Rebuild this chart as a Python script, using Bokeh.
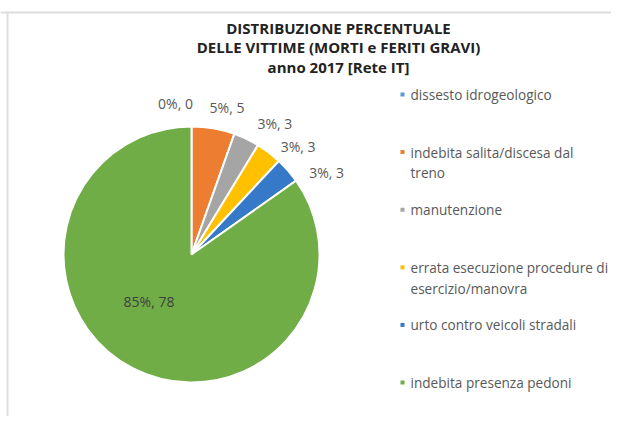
import math
from bokeh.plotting import figure
from bokeh.models import ColumnDataSource, Range1d
from bokeh.core.properties import value
from bokeh.embed import file_html
from bokeh.resources import INLINE

# ---- data ----
categories = [
    "dissesto idrogeologico",
    "indebita salita/discesa dal treno",
    "manutenzione",
    "errata esecuzione procedure di esercizio/manovra",
    "urto contro veicoli stradali",
    "indebita presenza pedoni",
]
legend_labels = [
    "dissesto idrogeologico",
    "indebita salita/discesa dal\ntreno",
    "manutenzione",
    "errata esecuzione procedure di\nesercizio/manovra",
    "urto contro veicoli stradali",
    "indebita presenza pedoni",
]
values = [0, 5, 3, 3, 3, 78]
colors = ["#5B9BD5", "#ED7D31", "#A5A5A5", "#FFC000", "#3579C8", "#70AD47"]
title_lines = [
    "DISTRIBUZIONE PERCENTUALE",
    "DELLE VITTIME (MORTI e FERITI GRAVI)",
    "anno 2017 [Rete IT]",
]

# ---- layout (pixels inside the figure) ----
W, H = 611, 416
TFONT = "Open Sans"
FONT = "Open Sans"
cx, cy, R = 191, 162, 128
lab_R = 150
# fine offsets of the labels (layout only)
lab_dx = [-16, 10, 19, 16, 22, -16]
lab_dy = [1, -1, -4, -12, -17, 4]

p = figure(width=W, height=H, x_range=Range1d(0, W), y_range=Range1d(0, H),
           output_backend="svg", toolbar_location=None, min_border=0)
p.axis.visible = False
p.xgrid.visible = False
p.ygrid.visible = False
p.outline_line_color = None
p.background_fill_color = "white"
p.border_fill_color = "white"

# frame lines of the chart area
p.segment(x0=[0, 7], y0=[404, 405], x1=[W, 7], y1=[404, 0],
          line_color="#DDDDDD", line_width=2)

# ---- pie ----
total = sum(values)
cum = 0.0
starts, ends, mids = [], [], []
for v in values:
    a0 = cum / total * 2 * math.pi
    cum += v
    a1 = cum / total * 2 * math.pi
    starts.append(math.pi / 2 - a1)
    ends.append(math.pi / 2 - a0)
    mids.append((a0 + a1) / 2)

idx = [i for i, v in enumerate(values) if v > 0]
wsrc = ColumnDataSource(dict(
    start=[starts[i] for i in idx], end=[ends[i] for i in idx],
    color=[colors[i] for i in idx],
))
p.wedge(x=cx, y=cy, radius=R, start_angle="start", end_angle="end",
        direction="anticlock", fill_color="color", line_color="white",
        line_width=2, source=wsrc)

# ---- data labels ----
lx, ly, lt, lc = [], [], [], []
for i, v in enumerate(values):
    pct = round(v / total * 100)
    rr = lab_R if v / total < 0.5 else R * 0.45
    lx.append(cx + rr * math.sin(mids[i]) + lab_dx[i])
    ly.append(cy + rr * math.cos(mids[i]) + lab_dy[i])
    lt.append(f"{pct}%, {v}")
    lc.append("#595959" if v / total < 0.5 else "#404040")
p.text(x=lx, y=ly, text=lt, text_color=lc, text_font=value(FONT),
       text_font_size="14px", text_align="center", text_baseline="middle")

# ---- title ----
t_y0, t_step = 389, 19.5
p.text(x=[338] * len(title_lines),
       y=[t_y0 - k * t_step for k in range(len(title_lines))],
       text=title_lines, text_font=value(TFONT), text_font_style="bold",
       text_font_size="15px", text_color="#222222",
       text_align="center", text_baseline="middle")

# ---- legend ----
lg_y0, lg_step = 322, 57.6
lg_y = [lg_y0 - k * lg_step for k in range(len(categories))]
p.rect(x=[402] * len(categories), y=lg_y, width=4, height=4,
       fill_color=colors, line_color=None)
p.text(x=[410] * len(categories), y=[y + 9.5 for y in lg_y], text=legend_labels,
       text_font=value(FONT), text_font_size="13.6px", text_color="#595959",
       text_align="left", text_baseline="top", text_line_height=1.1)

open("out.html", "w").write(file_html(p, INLINE))
